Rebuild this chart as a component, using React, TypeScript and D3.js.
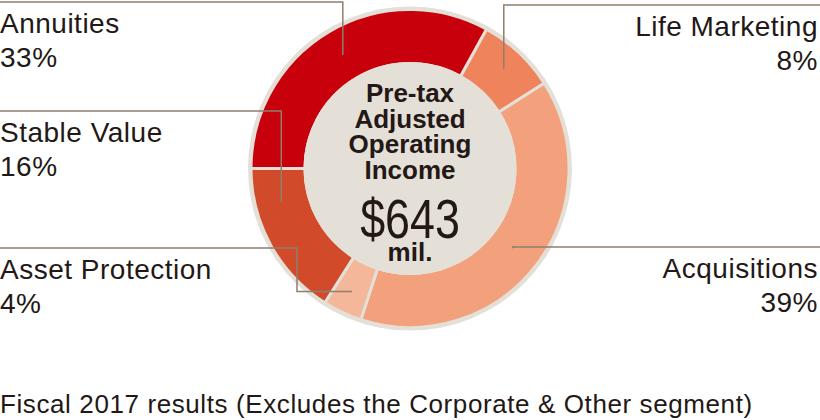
import React from "react";
import * as d3 from "d3";

const segments = ["Annuities", "Life Marketing", "Acquisitions", "Asset Protection", "Stable Value"];
const shares = [33, 8, 39, 4, 16];
const colors = ["#C7000C", "#EF845C", "#F3A07C", "#F5B799", "#D14B2B"];
const centerTitle = ["Pre-tax", "Adjusted", "Operating", "Income"];
const centerValue = "$643";
const centerUnit = "mil.";
const caption = "Fiscal 2017 results (Excludes the Corporate & Other segment)";

const W = 820;
const H = 420;
const FONT = "'Liberation Sans', Arial, Helvetica, sans-serif";
const TEXT = "#231815";
const BEIGE = "#E4DFD7";
const LINE = "#8E7F6E";

// label layout: side, y of leader line, optional elbow x, optional angle override (deg)
const layout: Record<string, { side: "left" | "right"; lineY: number; elbowX?: number; angle?: number; r: number }> = {
  "Annuities": { side: "left", lineY: 2, r: 132 },
  "Life Marketing": { side: "right", lineY: 5, r: 137 },
  "Acquisitions": { side: "right", lineY: 247, r: 130 },
  "Asset Protection": { side: "left", lineY: 248, elbowX: 297, r: 136 },
  "Stable Value": { side: "left", lineY: 111, angle: 255.4, r: 133 },
};

export default function App() {
  const cx = 410;
  const cy = 168.5;
  const outerR = 159;
  const innerR = 105;

  const data = segments.map((s, i) => ({ name: s, value: shares[i], color: colors[i] }));
  const pie = d3
    .pie<any>()
    .sort(null)
    .value((d: any) => d.value)
    .startAngle(-Math.PI / 2)
    .endAngle((3 * Math.PI) / 2);
  const arcs = pie(data);
  const arcGen = d3.arc<any>().innerRadius(innerR).outerRadius(outerR);

  const pointAt = (angleRad: number, r: number) => [cx + r * Math.sin(angleRad), cy - r * Math.cos(angleRad)];

  return (
    <svg width={W} height={H} style={{ position: "absolute", left: 0, top: 0, background: "#fff" }} fontFamily={FONT}>
      <circle cx={cx} cy={cy} r={162} fill={BEIGE} />
      <g transform={`translate(${cx},${cy})`}>
        {arcs.map((a, i) => (
          <path key={i} d={arcGen(a) as string} fill={a.data.color} stroke={BEIGE} strokeWidth={3} />
        ))}
      </g>
      <circle cx={cx} cy={cy} r={106.5} fill={BEIGE} />

      {arcs.map((a, i) => {
        const L = layout[a.data.name];
        const mid = L.angle !== undefined ? (L.angle * Math.PI) / 180 : (a.startAngle + a.endAngle) / 2;
        const [px, py] = pointAt(mid, L.r);
        let pts: number[][];
        if (L.side === "left") {
          if (L.elbowX !== undefined) {
            pts = [[0, L.lineY], [L.elbowX, L.lineY], [L.elbowX, py], [px, py]];
          } else {
            pts = [[0, L.lineY], [px, L.lineY], [px, py]];
          }
        } else {
          if (Math.abs(py - L.lineY) < 1) {
            pts = [[W, L.lineY], [px, L.lineY]];
          } else {
            pts = [[W, L.lineY], [px, L.lineY], [px, py]];
          }
        }
        const line = d3.line()(pts as [number, number][]) as string;
        const tx = L.side === "left" ? 0 : 818;
        const anchor = L.side === "left" ? "start" : "end";
        return (
          <g key={"l" + i}>
            <path d={line} fill="none" stroke={LINE} strokeWidth={1.5} />
            <text x={tx} y={L.lineY + 31} fontSize={28} letterSpacing={0.5} fill={TEXT} textAnchor={anchor}>
              {a.data.name}
            </text>
            <text x={tx} y={L.lineY + 65} fontSize={28} letterSpacing={0.5} fill={TEXT} textAnchor={anchor}>
              {a.data.value + "%"}
            </text>
          </g>
        );
      })}

      {centerTitle.map((t, i) => (
        <text key={t} x={cx} y={102 + i * 25.5} fontSize={26} fontWeight="bold" fill={TEXT} textAnchor="middle">
          {t}
        </text>
      ))}
      <text transform={`translate(${cx},238) scale(0.8,1)`} fontSize={56} fill={TEXT} textAnchor="middle">
        {centerValue}
      </text>
      <text x={cx} y={261} fontSize={26} fontWeight="bold" fill={TEXT} textAnchor="middle">
        {centerUnit}
      </text>

      <text x={0} y={413} fontSize={26} letterSpacing={0.6} fill={TEXT}>
        {caption}
      </text>
    </svg>
  );
}
